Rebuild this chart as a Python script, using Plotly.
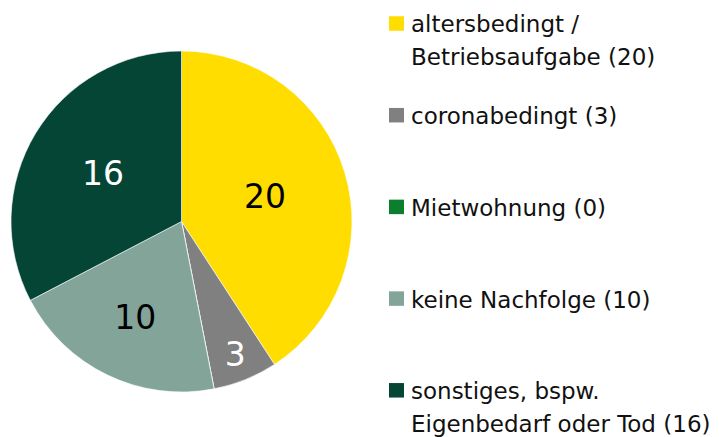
import plotly.graph_objects as go

# Data
categories = ["altersbedingt /\nBetriebsaufgabe", "coronabedingt", "Mietwohnung",
              "keine Nachfolge", "sonstiges, bspw.\nEigenbedarf oder Tod"]
values = [20, 3, 0, 10, 16]
colors = ["#FFDD00", "#808080", "#0B7F2E", "#82A499", "#044535"]
label_colors = ["#000000", "#FFFFFF", "#FFFFFF", "#000000", "#FFFFFF"]

W, H = 719, 437
FONT = "DejaVu Sans"

fig = go.Figure()
fig.add_trace(go.Pie(
    labels=[c.replace("\n", " ") for c in categories],
    values=values,
    text=[str(v) if v else "" for v in values],
    textinfo="text",
    textposition="inside",
    insidetextorientation="horizontal",
    insidetextfont=dict(family=FONT, size=33, color=label_colors),
    marker=dict(colors=colors, line=dict(color="#FFFFFF", width=0.6)),
    sort=False,
    direction="clockwise",
    rotation=0,
    showlegend=False,
    hoverinfo="label+value",
    domain=dict(x=[11 / W, 352 / W], y=[(H - 392) / H, (H - 51) / H]),
))

# Custom legend (evenly spaced slots)
sq_x0, sq_x1 = 389, 404
sq_h = 14.5
first_c, step = 23.5, 91.7
line_gap = 33
shapes, annotations = [], []
for i, (cat, val, col) in enumerate(zip(categories, values, colors)):
    cy = first_c + i * step
    shapes.append(dict(type="rect", xref="paper", yref="paper",
                       x0=sq_x0 / W, x1=sq_x1 / W,
                       y0=(H - (cy + sq_h / 2)) / H, y1=(H - (cy - sq_h / 2)) / H,
                       fillcolor=col, line=dict(width=0)))
    lines = cat.split("\n")
    lines[-1] = f"{lines[-1]} ({val})"
    for j, ln in enumerate(lines):
        ly = cy + 1 + j * line_gap
        annotations.append(dict(text=ln, xref="paper", yref="paper",
                                x=409 / W, y=(H - ly) / H, xanchor="left", yanchor="middle",
                                showarrow=False,
                                font=dict(family=FONT, size=23, color="#111111")))

fig.update_layout(
    width=W, height=H,
    margin=dict(l=0, r=0, t=0, b=0),
    paper_bgcolor="white", plot_bgcolor="white",
    font=dict(family=FONT),
    shapes=shapes, annotations=annotations,
)

fig.write_html("out.html",
               config={"displayModeBar": False},
               post_script="document.body.style.margin='0';document.body.style.overflow='hidden';")
